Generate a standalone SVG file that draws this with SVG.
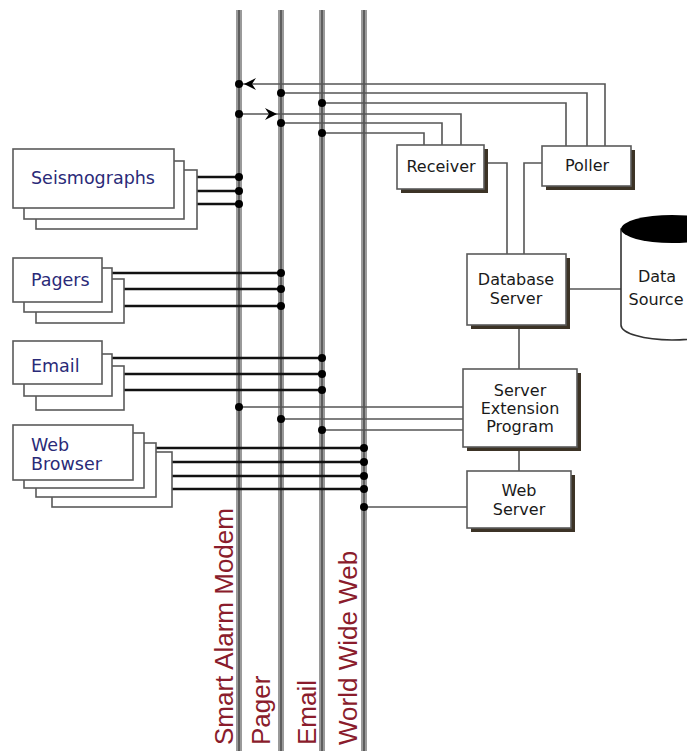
<svg xmlns="http://www.w3.org/2000/svg" width="687" height="751" viewBox="0 0 687 751">
<style>
.bus{stroke:#9a9a9a;stroke-width:6;fill:none}
.busc{stroke:#5e5e5e;stroke-width:2;fill:none}
.busl{font-family:"Liberation Sans",Arial,sans-serif;font-size:26px;fill:#8a1c2c}
.stk{fill:#fff;stroke:#5a5a5a;stroke-width:1.6}
.lt{font-family:"DejaVu Sans",Verdana,sans-serif;font-size:17.5px;fill:#2a2a78}
.box{fill:#fff;stroke:#5a5a5a;stroke-width:1.6}
.shd{fill:#3c3326}
.rt{font-family:"DejaVu Sans",Verdana,sans-serif;font-size:16px;fill:#1a1a1a;text-anchor:middle}
.thick{stroke:#111;stroke-width:2.6;fill:none}
.thin{stroke:#555;stroke-width:1.6;fill:none}
.dot{fill:#000}
</style>

<g id="buses">
  <line class="bus" x1="239" y1="10" x2="239" y2="751"/><line class="busc" x1="239" y1="10" x2="239" y2="751"/>
  <line class="bus" x1="281" y1="10" x2="281" y2="751"/><line class="busc" x1="281" y1="10" x2="281" y2="751"/>
  <line class="bus" x1="322" y1="10" x2="322" y2="751"/><line class="busc" x1="322" y1="10" x2="322" y2="751"/>
  <line class="bus" x1="364" y1="10" x2="364" y2="751"/><line class="busc" x1="364" y1="10" x2="364" y2="751"/>
  <text class="busl" transform="translate(233,745) rotate(-90)">Smart Alarm Modem</text>
  <text class="busl" transform="translate(270,745) rotate(-90)">Pager</text>
  <text class="busl" transform="translate(316,745) rotate(-90)">Email</text>
  <text class="busl" transform="translate(357,745) rotate(-90)">World Wide Web</text>
</g>

<g id="connectors">
  <polyline class="thin" points="239,84 605,84 605,146"/>
  <polyline class="thin" points="281,93 587,93 587,146"/>
  <polyline class="thin" points="322,103 566,103 566,146"/>
  <polyline class="thin" points="239,114 461,114 461,145"/>
  <polyline class="thin" points="281,123 442,123 442,145"/>
  <polyline class="thin" points="322,133 424,133 424,145"/>
  <polygon fill="#000" points="244,84 256,78 252,84 256,90"/>
  <polygon fill="#000" points="277,114 265,108 269,114 265,120"/>
  <polyline class="thin" points="484,163 507,163 507,254"/>
  <polyline class="thin" points="542,163 524,163 524,254"/>
  <line class="thin" x1="566" y1="289" x2="621" y2="289"/>
  <line class="thin" x1="519" y1="325" x2="519" y2="369"/>
  <line class="thin" x1="519" y1="447" x2="519" y2="471"/>
  <line class="thin" x1="239" y1="407" x2="463" y2="407"/>
  <line class="thin" x1="281" y1="419" x2="463" y2="419"/>
  <line class="thin" x1="322" y1="430" x2="463" y2="430"/>
  <line class="thin" x1="364" y1="507" x2="467" y2="507"/>
  <line class="thick" x1="174" y1="177" x2="239" y2="177"/>
  <line class="thick" x1="184" y1="191" x2="239" y2="191"/>
  <line class="thick" x1="197" y1="204" x2="239" y2="204"/>
  <line class="thick" x1="102" y1="273" x2="281" y2="273"/>
  <line class="thick" x1="112" y1="289" x2="281" y2="289"/>
  <line class="thick" x1="124" y1="306" x2="281" y2="306"/>
  <line class="thick" x1="102" y1="358" x2="322" y2="358"/>
  <line class="thick" x1="112" y1="374" x2="322" y2="374"/>
  <line class="thick" x1="124" y1="390" x2="322" y2="390"/>
  <line class="thick" x1="133" y1="448" x2="364" y2="448"/>
  <line class="thick" x1="144" y1="462" x2="364" y2="462"/>
  <line class="thick" x1="156" y1="476" x2="364" y2="476"/>
  <line class="thick" x1="172" y1="489" x2="364" y2="489"/>
  <g class="dot">
    <circle cx="239" cy="84" r="4"/><circle cx="239" cy="114" r="4"/>
    <circle cx="239" cy="177" r="4"/><circle cx="239" cy="191" r="4"/><circle cx="239" cy="204" r="4"/>
    <circle cx="239" cy="407" r="4"/>
    <circle cx="281" cy="93" r="4"/><circle cx="281" cy="123" r="4"/>
    <circle cx="281" cy="273" r="4"/><circle cx="281" cy="289" r="4"/><circle cx="281" cy="306" r="4"/>
    <circle cx="281" cy="419" r="4"/>
    <circle cx="322" cy="103" r="4"/><circle cx="322" cy="133" r="4"/>
    <circle cx="322" cy="358" r="4"/><circle cx="322" cy="374" r="4"/><circle cx="322" cy="390" r="4"/>
    <circle cx="322" cy="430" r="4"/>
    <circle cx="364" cy="448" r="4"/><circle cx="364" cy="462" r="4"/><circle cx="364" cy="476" r="4"/>
    <circle cx="364" cy="489" r="4"/><circle cx="364" cy="507" r="4"/>
  </g>
</g>

<g id="seismographs">
  <rect class="stk" x="36" y="170" width="161" height="59"/>
  <rect class="stk" x="24" y="161" width="160" height="58"/>
  <rect class="stk" x="13" y="149" width="161" height="59"/>
  <text class="lt" x="31" y="184">Seismographs</text>
</g>

<g id="pagers">
  <rect class="stk" x="36" y="279" width="88" height="44"/>
  <rect class="stk" x="24" y="268" width="88" height="44"/>
  <rect class="stk" x="13" y="258" width="89" height="44"/>
  <text class="lt" x="31" y="286">Pagers</text>
</g>

<g id="email">
  <rect class="stk" x="36" y="366" width="88" height="44"/>
  <rect class="stk" x="24" y="354" width="88" height="42"/>
  <rect class="stk" x="13" y="341" width="89" height="43"/>
  <text class="lt" x="31" y="372">Email</text>
</g>

<g id="web-browser">
  <rect class="stk" x="52" y="452" width="120" height="55"/>
  <rect class="stk" x="36" y="443" width="120" height="54"/>
  <rect class="stk" x="24" y="433" width="120" height="55"/>
  <rect class="stk" x="13" y="425" width="120" height="55"/>
  <text class="lt" x="31" y="451">Web</text>
  <text class="lt" x="31" y="470">Browser</text>
</g>

<g id="receiver">
  <rect class="shd" x="401" y="149" width="87" height="44"/>
  <rect class="box" x="397" y="145" width="87" height="44"/>
  <text class="rt" x="441" y="172">Receiver</text>
</g>

<g id="poller">
  <rect class="shd" x="546" y="150" width="89" height="40"/>
  <rect class="box" x="542" y="146" width="89" height="40"/>
  <text class="rt" x="587" y="171">Poller</text>
</g>

<g id="database-server">
  <rect class="shd" x="471" y="258" width="99" height="71"/>
  <rect class="box" x="467" y="254" width="99" height="71"/>
  <text class="rt" x="516" y="285">Database</text>
  <text class="rt" x="516" y="304">Server</text>
</g>

<g id="data-source">
  <path d="M621,229 L621,325 A51,15 0 0 0 723,325 L723,229 Z" fill="#fff" stroke="#333" stroke-width="1.6"/>
  <ellipse cx="672" cy="229" rx="51" ry="14" fill="#000"/>
  <text class="rt" x="657" y="282">Data</text>
  <text class="rt" x="656" y="305">Source</text>
</g>

<g id="server-extension-program">
  <rect class="shd" x="467" y="373" width="114" height="78"/>
  <rect class="box" x="463" y="369" width="114" height="78"/>
  <text class="rt" x="520" y="396">Server</text>
  <text class="rt" x="520" y="414">Extension</text>
  <text class="rt" x="520" y="432">Program</text>
</g>

<g id="web-server">
  <rect class="shd" x="471" y="475" width="104" height="57"/>
  <rect class="box" x="467" y="471" width="104" height="57"/>
  <text class="rt" x="519" y="496">Web</text>
  <text class="rt" x="519" y="515">Server</text>
</g>
</svg>
